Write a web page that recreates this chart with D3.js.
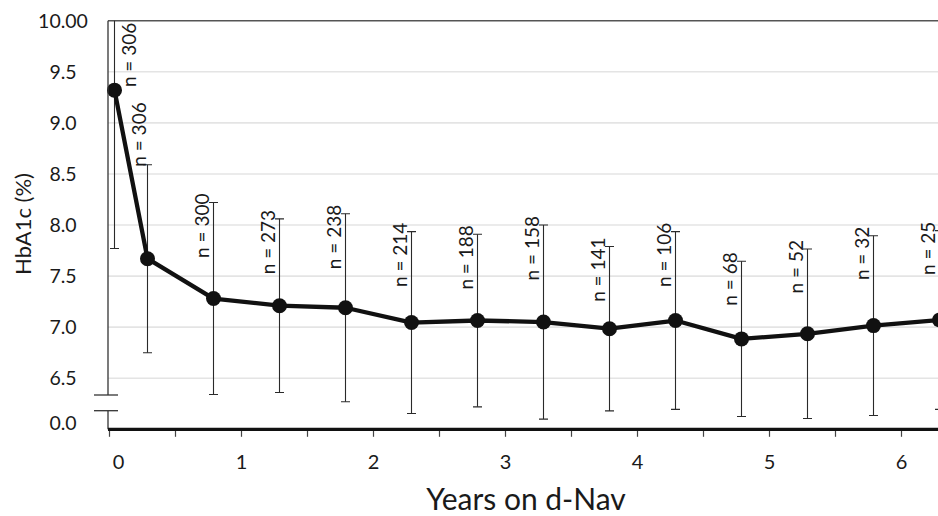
<!DOCTYPE html>
<html>
<head>
<meta charset="utf-8">
<script src="https://cdn.jsdelivr.net/npm/d3@7"></script>
<style>
  html, body { margin: 0; padding: 0; background: #fff; }
  svg { display: block; }
  text { font-family: Lato, "Open Sans", sans-serif; fill: #1a1a1a; }
</style>
</head>
<body>
<svg id="chart" width="938" height="516"></svg>
<script>
// ---- data ----
const years      = [0, 0.25, 0.75, 1.25, 1.75, 2.25, 2.75, 3.25, 3.75, 4.25, 4.75, 5.25, 5.75, 6.25];
const hba1cMean  = [9.32, 7.67, 7.28, 7.21, 7.19, 7.045, 7.065, 7.05, 6.985, 7.065, 6.885, 6.935, 7.015, 7.07];
const hba1cSD    = [1.55, 0.92, 0.94, 0.85, 0.92, 0.89, 0.845, 0.95, 0.805, 0.87, 0.76, 0.83, 0.88, 0.875];
const nCounts    = [306, 306, 300, 273, 238, 214, 188, 158, 141, 106, 68, 52, 32, 25];
const yTickValues = [10, 9.5, 9, 8.5, 8, 7.5, 7, 6.5];
const yTickLabels = ["10.00", "9.5", "9.0", "8.5", "8.0", "7.5", "7.0", "6.5"];
const yBreakLabel = "0.0";
const xTickValues = [0, 0.5, 1, 1.5, 2, 2.5, 3, 3.5, 4, 4.5, 5, 5.5, 6];
const xTickLabels = ["0", "", "1", "", "2", "", "3", "", "4", "", "5", "", "6"];
const xTitle = "Years on d-Nav";
const yTitle = "HbA1c (%)";

// ---- layout ----
const W = 938, H = 516;
const plotLeft = 108, plotRight = 938;
const svg = d3.select("#chart");

const y = d3.scaleLinear().domain([6, 10]).range([429.3, 20.7]);
const x = d3.scaleLinear().domain([0, 6]).range([114.5, 906.5]);       // data positions
const xAxisScale = d3.scaleLinear().domain([0, 6]).range([109, 901]);  // tick positions
const breakTop = 395, breakBottom = 410.7;

svg.append("defs").append("clipPath").attr("id", "plotclip")
  .append("rect").attr("x", plotLeft).attr("y", y(10)).attr("width", plotRight - plotLeft).attr("height", y(6) - y(10));

// gridlines
svg.append("g").selectAll("line").data(yTickValues.filter(v => v < 10)).join("line")
  .attr("x1", plotLeft).attr("x2", plotRight)
  .attr("y1", d => y(d)).attr("y2", d => y(d))
  .attr("stroke", "#e4e4e4").attr("stroke-width", 1.6);

// top border
svg.append("line").attr("x1", plotLeft).attr("x2", plotRight)
  .attr("y1", y(10)).attr("y2", y(10)).attr("stroke", "#555").attr("stroke-width", 1.6);

const plot = svg.append("g").attr("clip-path", "url(#plotclip)");

// error bars
const capW = 4.5;
const eb = plot.append("g").attr("stroke", "#2a2a2a").attr("stroke-width", 1.1);
years.forEach((t, i) => {
  const hi = hba1cMean[i] + hba1cSD[i], lo = hba1cMean[i] - hba1cSD[i];
  eb.append("line").attr("x1", x(t)).attr("x2", x(t)).attr("y1", y(hi)).attr("y2", y(lo));
  eb.append("line").attr("x1", x(t) - capW).attr("x2", x(t) + capW).attr("y1", y(hi)).attr("y2", y(hi));
  eb.append("line").attr("x1", x(t) - capW).attr("x2", x(t) + capW).attr("y1", y(lo)).attr("y2", y(lo));
});

// mean line
const pts = years.map((t, i) => [t, hba1cMean[i]]);
svg.append("path").datum(pts)
  .attr("fill", "none").attr("stroke", "#111").attr("stroke-width", 4.3).attr("stroke-linejoin", "round")
  .attr("d", d3.line().x(d => x(d[0])).y(d => y(d[1])));

svg.append("g").selectAll("circle").data(pts).join("circle")
  .attr("cx", d => x(d[0])).attr("cy", d => y(d[1])).attr("r", 7.5).attr("fill", "#111");

// n labels
const nl = svg.append("g").attr("font-size", 19);
years.forEach((t, i) => {
  const hiY = y(hba1cMean[i] + hba1cSD[i]);
  let bx, by, anchor;
  if (i === 0) { bx = x(t) + 21; by = y(10) + 2; anchor = "end"; }
  else if (i === 1) { bx = x(t) - 2; by = hiY + 2; anchor = "start"; }
  else { bx = x(t) - 5; by = hiY - 9; anchor = "end"; }
  nl.append("text").attr("transform", `translate(${bx},${by}) rotate(-90)`)
    .attr("text-anchor", anchor).text("n = " + nCounts[i]);
});

// left axis with break
const ax = svg.append("g").attr("stroke", "#333").attr("stroke-width", 1.3);
ax.append("line").attr("x1", plotLeft).attr("x2", plotLeft).attr("y1", y(10)).attr("y2", breakTop);
ax.append("line").attr("x1", plotLeft).attr("x2", plotLeft).attr("y1", breakBottom).attr("y2", y(6));
ax.append("line").attr("x1", 94).attr("x2", 118).attr("y1", breakTop).attr("y2", breakTop);
ax.append("line").attr("x1", 94).attr("x2", 118).attr("y1", breakBottom).attr("y2", breakBottom);

// y tick labels
const yl = svg.append("g").attr("font-size", 19.5).attr("text-anchor", "middle");
yTickValues.forEach((v, i) => {
  yl.append("text").attr("x", 63).attr("y", y(v)).attr("dy", "0.36em").text(yTickLabels[i]);
});
yl.append("text").attr("x", 63).attr("y", y(6) - 6).attr("dy", "0.36em").text(yBreakLabel);

// x axis
const xAxis = d3.axisBottom(xAxisScale).tickValues(xTickValues)
  .tickSize(6).tickPadding(18).tickFormat((d, i) => xTickLabels[i]);
const xg = svg.append("g").attr("transform", `translate(0,${y(6) + 1.5})`).call(xAxis);
xg.select(".domain").remove();
xg.selectAll(".tick line").attr("stroke", "#444").attr("stroke-width", 1.2);
xg.selectAll(".tick text").attr("font-size", 20).attr("font-family", "Lato, sans-serif").attr("fill", "#1a1a1a");
xg.selectAll(".tick text").filter((d, i) => i === 0).attr("dx", 9);

svg.append("line").attr("x1", plotLeft).attr("x2", plotRight)
  .attr("y1", y(6)).attr("y2", y(6)).attr("stroke", "#111").attr("stroke-width", 3.2);

// titles
svg.append("text").attr("x", 526).attr("y", 510).attr("text-anchor", "middle")
  .attr("font-size", 30).text(xTitle);
svg.append("text").attr("transform", "translate(31,224) rotate(-90)").attr("text-anchor", "middle")
  .attr("font-size", 22).text(yTitle);
</script>
</body>
</html>
